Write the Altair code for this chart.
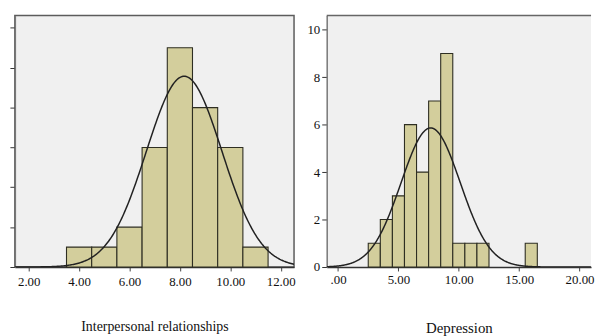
import altair as alt
import pandas as pd

# ---- data ----
ir_bin_start = [3.5, 4.5, 5.5, 6.5, 7.5, 8.5, 9.5, 10.5]
ir_counts = [1, 1, 2, 6, 11, 8, 6, 1]
ir_mean, ir_sd, ir_n = 8.17, 1.50, 36
ir_xticks = [2, 4, 6, 8, 10, 12]
ir_yticks = [0, 2, 4, 6, 8, 10, 12]

dep_bin_start = [2.5, 3.5, 4.5, 5.5, 6.5, 7.5, 8.5, 9.5, 10.5, 11.5, 15.5]
dep_counts = [1, 2, 3, 6, 4, 7, 9, 1, 1, 1, 1]
dep_mean, dep_sd, dep_n = 7.67, 2.45, 36
dep_xticks = [0, 5, 10, 15, 20]
dep_yticks = [0, 2, 4, 6, 8, 10]

bin_width = 1.0

FONT = "Liberation Serif"
BAR_FILL = "#d3ce9c"
BAR_STROKE = "#2e2e22"
BG = "#f0f0f0"


def panel(starts, counts, mean, sd, n, xdom, ydom, xticks, yticks, title,
          width, height, ylabels, label_pad, title_pad, title_size, framed):
    df = pd.DataFrame({
        "start": starts,
        "end": [s + bin_width for s in starts],
        "count": counts,
        "base": [0] * len(starts),
    })
    xscale = alt.Scale(domain=xdom, nice=False, zero=False)
    yscale = alt.Scale(domain=ydom, nice=False)
    xaxis = alt.Axis(
        values=xticks, title=title,
        labelExpr="datum.value == 0 ? '.00' : format(datum.value, '.2f')",
        labelFont=FONT, labelFontSize=13, labelColor="#111",
        labelPadding=label_pad, tickSize=4, tickColor="#444",
        domainColor="#333", domainWidth=1.6, grid=False,
        titleFont=FONT, titleFontSize=title_size, titleFontWeight="normal",
        titleColor="#111", titlePadding=title_pad,
    )
    yaxis = alt.Axis(
        values=yticks, title=None, labels=ylabels,
        labelFont=FONT, labelFontSize=13, labelColor="#111",
        labelPadding=2, tickSize=5, tickColor="#333",
        domainColor="#777", domainWidth=1.5, grid=False,
    )
    bars = alt.Chart(df).mark_bar(
        fill=BAR_FILL, stroke=BAR_STROKE, strokeWidth=1.1
    ).encode(
        x=alt.X("start:Q", scale=xscale, axis=xaxis),
        x2="end:Q",
        y=alt.Y("count:Q", scale=yscale, axis=yaxis),
        y2="base:Q",
    )
    curve = alt.Chart(
        alt.sequence(xdom[0], xdom[1] + 0.01, 0.04, as_="x")
    ).transform_calculate(
        y=f"{n}*{bin_width}/({sd}*sqrt(2*PI))*exp(-0.5*pow((datum.x-{mean})/{sd},2))"
    ).mark_line(color="#222222", strokeWidth=1.5, clip=True).encode(
        x=alt.X("x:Q", scale=xscale),
        y=alt.Y("y:Q", scale=yscale),
    )
    layers = [bars, curve]
    if framed:
        view = alt.ViewBackground(fill=BG, stroke="#5c5c5c", strokeWidth=1.5)
    else:
        view = alt.ViewBackground(fill=BG, stroke=None)
        top = alt.Chart(alt.Data(values=[{"a": 1}])).mark_rule(
            color="#666", strokeWidth=1.5
        ).encode(y=alt.value(0), x=alt.value(0), x2=alt.value(width))
        layers.append(top)
    return alt.layer(*layers).properties(width=width, height=height, view=view)


left = panel(ir_bin_start, ir_counts, ir_mean, ir_sd, ir_n,
             [1.45, 12.53], [0, 12.62], ir_xticks, ir_yticks,
             "Interpersonal relationships", 282, 254, False, 5, 31, 14, True)
right = panel(dep_bin_start, dep_counts, dep_mean, dep_sd, dep_n,
              [-0.94, 20.95], [0, 10.6], dep_xticks, dep_yticks,
              "Depression", 267, 254, True, 3, 34, 15, False)

chart = alt.hconcat(left, right, spacing=33, bounds="flush").properties(
    padding={"left": 8, "top": 13, "right": 0, "bottom": 0},
    background="white",
)

chart.save("out.html", embed_options={"renderer": "svg", "actions": False})
